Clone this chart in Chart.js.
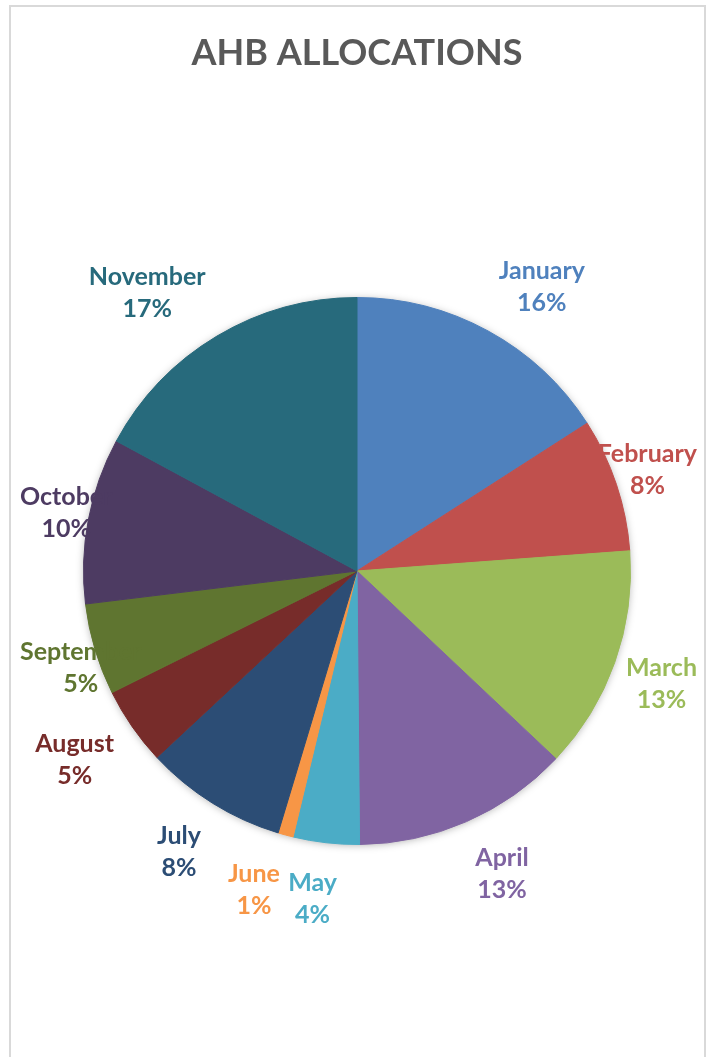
<!DOCTYPE html>
<html>
<head>
<meta charset="utf-8">
<title>AHB Allocations</title>
<script src="https://cdn.jsdelivr.net/npm/chart.js@4.4.1/dist/chart.umd.min.js"></script>
<style>
  html, body { margin: 0; padding: 0; background: #fff; }
  #wrap { position: relative; width: 709px; height: 1057px; overflow: hidden; }
  #frame { position: absolute; left: 9px; top: 5px; width: 697px; height: 1070px;
           border: 2px solid #d9d9d9; box-sizing: border-box; pointer-events: none; }
</style>
</head>
<body>
<div id="wrap">
  <canvas id="ahb" width="709" height="1057"></canvas>
  <div id="frame"></div>
</div>
<script>
// data (share of the pie, in %)
const months = ['January', 'February', 'March', 'April', 'May', 'June',
                'July', 'August', 'September', 'October', 'November'];
const allocations = [15.9, 7.9, 13.2, 12.8, 3.9, 0.9, 8.4, 4.6, 5.4, 9.8, 17.1];
const sliceColors = ['#4F81BD', '#C0504D', '#9BBB59', '#8064A2', '#4BACC6', '#F79646',
                     '#2C4D75', '#772C2A', '#5F7530', '#4D3B62', '#276A7C'];

// soft shadow under the pie
const pieShadow = {
    id: 'pieShadow',
    beforeDatasetsDraw(chart) {
        const arc = chart.getDatasetMeta(0).data[0];
        if (!arc) return;
        const ctx = chart.ctx;
        ctx.save();
        ctx.shadowColor = 'rgba(0,0,0,0.35)';
        ctx.shadowBlur = 9;
        ctx.shadowOffsetY = 1;
        ctx.fillStyle = '#ffffff';
        ctx.beginPath();
        ctx.arc(arc.x, arc.y, arc.outerRadius - 1, 0, Math.PI * 2);
        ctx.fill();
        ctx.restore();
    }
};

// Excel-like "outside end" labels: name + percent, coloured like the slice
const outsideLabels = {
    id: 'outsideLabels',
    afterDatasetsDraw(chart, args, opts) {
        const ctx = chart.ctx;
        const meta = chart.getDatasetMeta(0);
        const values = chart.data.datasets[0].data;
        const total = values.reduce((a, b) => a + b, 0);
        ctx.save();
        ctx.font = opts.font;
        ctx.textAlign = 'center';
        ctx.textBaseline = 'middle';
        meta.data.forEach((arc, i) => {
            const p = arc.getProps(['x', 'y', 'startAngle', 'endAngle', 'outerRadius'], true);
            const mid = (p.startAngle + p.endAngle) / 2;
            const lines = [chart.data.labels[i], Math.round(values[i] / total * 100) + '%'];
            const w = Math.max(...lines.map(t => ctx.measureText(t).width));
            const h = lines.length * opts.lineHeight;
            const ax = p.x + Math.cos(mid) * (p.outerRadius + opts.gap);
            const ay = p.y + Math.sin(mid) * (p.outerRadius + opts.gap);
            let cx = ax + w / 2 * Math.max(-1, Math.min(1, 4 * Math.cos(mid)));
            const cy = ay + h / 2 * Math.sin(mid) + opts.shiftY;
            cx = Math.min(Math.max(cx, opts.minX + w / 2), opts.maxX - w / 2);
            ctx.fillStyle = sliceColors[i];
            lines.forEach((t, j) => {
                ctx.fillText(t, cx, cy - h / 2 + opts.lineHeight * (j + 0.5));
            });
        });
        ctx.restore();
    }
};

const ahb = document.getElementById('ahb').getContext('2d');
const ahbChart = new Chart(ahb, {
    type: 'pie',
    data: {
        labels: months,
        datasets: [{
            data: allocations,
            backgroundColor: sliceColors,
            borderColor: sliceColors,
            borderWidth: 1,
            offset: 0,
            hoverOffset: 0
        }]
    },
    options: {
        responsive: false,
        animation: false,
        events: [],
        layout: {
            padding: { left: 83, right: 78, top: 0, bottom: 212 }
        },
        plugins: {
            legend: { display: false },
            tooltip: { enabled: false },
            title: {
                display: true,
                text: 'AHB ALLOCATIONS',
                color: '#595959',
                font: { family: 'Lato', size: 36, weight: 'bold', lineHeight: 1.2 },
                padding: { top: 32, bottom: 221.8 }
            },
            outsideLabels: {
                font: 'bold 25px Lato',
                lineHeight: 32,
                gap: 22,
                shiftY: 3,
                minX: 20,
                maxX: 697
            }
        }
    },
    plugins: [pieShadow, outsideLabels]
});
</script>
</body>
</html>
